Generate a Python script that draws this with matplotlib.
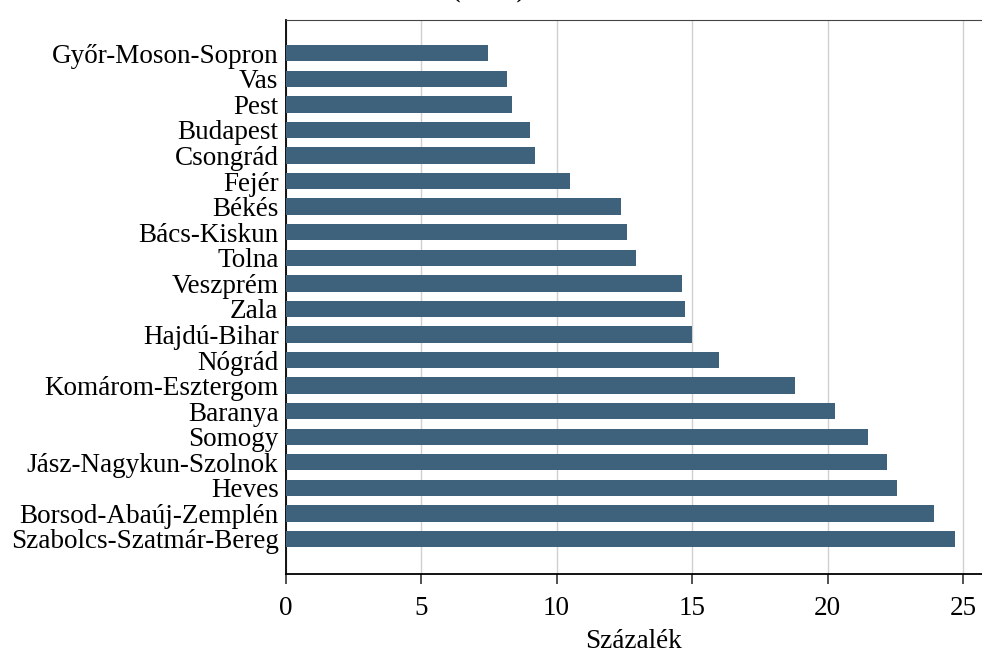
import matplotlib.pyplot as plt
import numpy as np

# counties, top to bottom as drawn
counties = ["Győr-Moson-Sopron", "Vas", "Pest", "Budapest", "Csongrád", "Fejér",
            "Békés", "Bács-Kiskun", "Tolna", "Veszprém", "Zala", "Hajdú-Bihar",
            "Nógrád", "Komárom-Esztergom", "Baranya", "Somogy",
            "Jász-Nagykun-Szolnok", "Heves", "Borsod-Abaúj-Zemplén",
            "Szabolcs-Szatmár-Bereg"]
percent = [7.49, 8.19, 8.35, 9.01, 9.22, 10.48, 12.38, 12.6, 12.93, 14.62, 14.75,
           15.0, 16.0, 18.8, 20.29, 21.51, 22.2, 22.56, 23.93, 24.71]
xticks = [0, 5, 10, 15, 20, 25]

plt.rcParams['font.family'] = ['Liberation Serif', 'DejaVu Serif']

fig = plt.figure(figsize=(9.82, 6.55), dpi=100)
ax = fig.add_axes([285.5/982, 1 - 574/655, 1 - 285.5/982, (574 - 20)/655])

pos = np.arange(len(counties))[::-1]
ax.barh(pos, percent, height=0.64, color="#3e627c", zorder=3)

ax.set_xlim(0, 25.7)
ax.set_ylim(-1.37, len(counties) - 1 + 1.3)
ax.set_xticks(xticks)
ax.set_yticks(pos)
ax.set_yticklabels(counties)
ax.tick_params(axis='y', length=0, pad=5, labelsize=19.5)
ax.tick_params(axis='x', length=7.5, width=1.2, color="#333333",
               labelsize=19.5, pad=8)
ax.grid(axis='x', color="#d0d0d0", linewidth=1, zorder=0)
ax.set_xlabel("Százalék", fontsize=19.5, labelpad=6)

ax.spines['right'].set_visible(False)
ax.spines['top'].set_color("#444444")
for s in ['left', 'bottom']:
    ax.spines[s].set_linewidth(1.3)

# title sits mostly above the canvas; only its lower edge shows
fig.text(489/982, 1 + 2/655, "(          )", ha='center', va='baseline',
         fontsize=16, weight='bold')

fig.savefig("out.png", dpi=100)
